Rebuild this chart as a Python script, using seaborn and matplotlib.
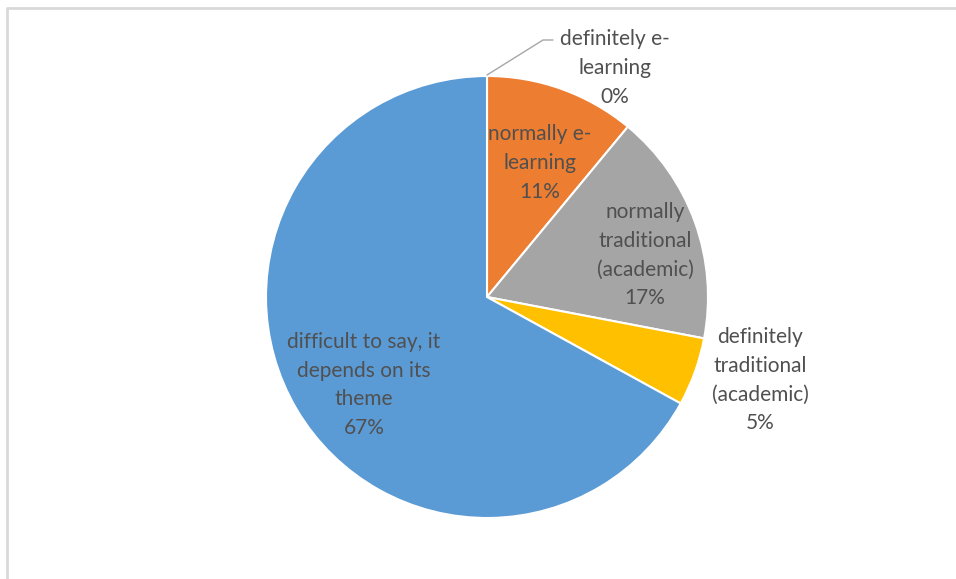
import matplotlib
matplotlib.use("Agg")
import matplotlib.pyplot as plt
import seaborn as sns

# Data
categories = ["definitely e-\nlearning", "normally e-\nlearning", "normally\ntraditional\n(academic)",
              "definitely\ntraditional\n(academic)", "difficult to say, it\ndepends on its\ntheme"]
values = [0, 11, 17, 5, 67]
pct_labels = ["0%", "11%", "17%", "5%", "67%"]
colors = ["#4472C4", "#ED7D31", "#A5A5A5", "#FFC000", "#5B9BD5"]

sns.set_theme(style="white")
plt.rcParams['font.family'] = ['Lato', 'DejaVu Sans']

W, H = 956, 579
fig = plt.figure(figsize=(W / 100, H / 100), dpi=100)
ax = fig.add_axes([0, 0, 1, 1])

cx, cy, r = 487, H - 297, 221
wedges, _ = ax.pie(values, colors=colors, startangle=90, counterclock=False,
                   center=(cx, cy), radius=r,
                   wedgeprops=dict(edgecolor="white", linewidth=1.5))
ax.set_xlim(0, W)
ax.set_ylim(0, H)
ax.set_aspect("equal")
ax.axis("off")

# frame lines (left and top)
ax.plot([7, 7, W + 20], [-20, H - 8, H - 8], color="#D9D9D9", lw=2, clip_on=False)

txt_color = "#505050"
label_pos = [(615, 68), (540, 163), (645, 255), (760, 380), (364, 385)]
for cat, pct, (px, py) in zip(categories, pct_labels, label_pos):
    ax.text(px, H - py, f"{cat}\n{pct}", ha="center", va="center", fontsize=15,
            color=txt_color, linespacing=1.55)

# leader line for the 0% slice
ax.plot([487, 543, 553], [H - 75, H - 40, H - 40], color="#A6A6A6", lw=1)

fig.savefig("out.png", dpi=100)
